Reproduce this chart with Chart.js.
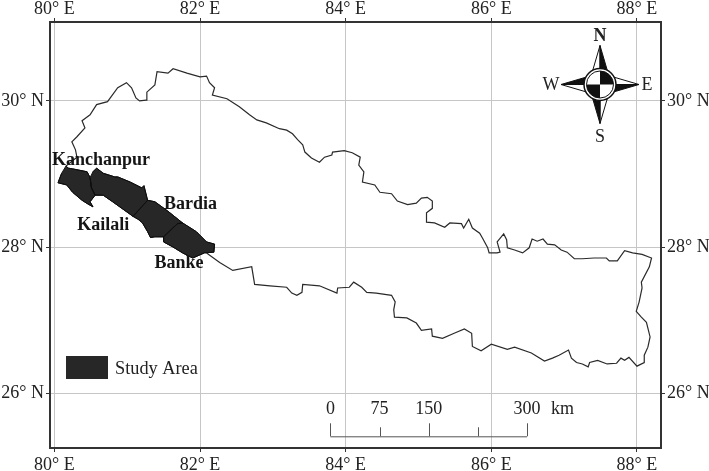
<!DOCTYPE html>
<html>
<head>
<meta charset="utf-8">
<style>
  html, body { margin: 0; padding: 0; background: #fff; }
  canvas { display: block; }
</style>
<script src="https://cdn.jsdelivr.net/npm/chart.js@4/dist/chart.umd.min.js"></script>
</head>
<body>
<canvas id="mapChart" width="709" height="471"></canvas>
<script>
// Tick positions, degrees
const lonTicks = [80, 82, 84, 86, 88];
const latTicks = [26, 28, 30];

const outlineLon = [80.16, 80.31, 80.29, 80.24, 80.31, 80.42, 80.38, 80.49, 80.58, 80.73, 80.87, 80.99, 81.06, 81.12, 81.17, 81.26, 81.27, 81.38, 81.41, 81.56, 81.63, 81.82, 82.00, 82.09, 82.13, 82.20, 82.17, 82.37, 82.54, 82.68, 82.78, 82.91, 83.09,
  83.19, 83.27, 83.34, 83.41, 83.44, 83.53, 83.64, 83.71, 83.81, 83.82, 83.98, 84.09, 84.20, 84.18, 84.25, 84.23, 84.40, 84.47, 84.63, 84.71, 84.85, 84.97, 85.04, 85.12, 85.19, 85.19, 85.11, 85.11, 85.22, 85.36, 85.43, 85.59, 85.62, 85.69, 85.74, 85.84,
  85.88, 85.95, 85.97, 86.08, 86.12, 86.08, 86.17, 86.21, 86.22, 86.32, 86.43, 86.52, 86.56, 86.63, 86.71, 86.77, 86.87, 86.96, 87.04, 87.14, 87.25, 87.41, 87.58, 87.62, 87.73, 87.83, 87.94, 88.07, 88.20,
  88.17, 88.06, 88.07, 88.03, 87.99, 88.06, 88.13, 88.18, 88.15, 88.10, 88.10, 88.00, 87.89, 87.83, 87.78, 87.72, 87.59, 87.46, 87.35, 87.33, 87.25, 87.17, 87.10, 87.06, 86.93, 86.84, 86.73, 86.55, 86.32, 86.22, 86.00, 85.86, 85.74, 85.73,
  85.63, 85.49, 85.33, 85.19, 85.18, 85.04, 84.97, 84.84, 84.67, 84.66, 84.68, 84.63, 84.42, 84.29, 84.22, 84.11, 84.05, 83.89, 83.88, 83.64, 83.41, 83.40, 83.33, 83.26, 83.19, 82.96, 82.75, 82.71, 82.45, 82.27, 82.09];
const outlineLat = [29.11, 29.23, 29.33, 29.44, 29.51, 29.63, 29.73, 29.81, 29.95, 29.99, 30.18, 30.25, 30.18, 30.04, 30.00, 30.01, 30.12, 30.22, 30.40, 30.38, 30.44, 30.38, 30.33, 30.34, 30.25, 30.18, 30.08, 30.03, 29.92, 29.81, 29.74, 29.70, 29.62,
  29.60, 29.55, 29.47, 29.40, 29.30, 29.22, 29.16, 29.23, 29.26, 29.30, 29.32, 29.29, 29.23, 29.12, 29.03, 28.89, 28.85, 28.75, 28.73, 28.63, 28.58, 28.60, 28.67, 28.68, 28.63, 28.53, 28.47, 28.34, 28.33, 28.27, 28.33, 28.32, 28.26, 28.38, 28.26, 28.19,
  28.12, 27.99, 27.92, 27.92, 27.93, 28.07, 28.18, 28.10, 27.99, 27.96, 27.92, 27.99, 28.11, 28.08, 28.11, 28.04, 28.03, 27.96, 27.93, 27.84, 27.84, 27.85, 27.85, 27.81, 27.81, 27.95, 27.92, 27.90, 27.85,
  27.73, 27.52, 27.44, 27.25, 27.12, 27.04, 26.97, 26.77, 26.63, 26.52, 26.42, 26.37, 26.49, 26.45, 26.48, 26.41, 26.40, 26.45, 26.42, 26.36, 26.40, 26.42, 26.48, 26.59, 26.52, 26.48, 26.44, 26.55, 26.63, 26.60, 26.67, 26.58, 26.64, 26.82,
  26.88, 26.82, 26.75, 26.78, 26.88, 26.86, 26.96, 27.03, 27.04, 27.14, 27.25, 27.34, 27.37, 27.38, 27.45, 27.52, 27.45, 27.44, 27.37, 27.47, 27.49, 27.38, 27.34, 27.37, 27.45, 27.47, 27.49, 27.73, 27.68, 27.79, 27.92];

// Study districts
const kanchanpurLon = [80.16, 80.19, 80.25, 80.45, 80.49, 80.51, 80.56, 80.49, 80.53, 80.46, 80.38, 80.25, 80.17, 80.05, 80.10];
const kanchanpurLat = [29.11, 29.08, 29.07, 29.03, 28.95, 28.81, 28.71, 28.62, 28.55, 28.59, 28.64, 28.75, 28.85, 28.88, 29.01];
const kailaliLon = [80.53, 80.58, 80.67, 80.83, 80.87, 81.04, 81.20, 81.23, 81.28, 81.08, 81.01, 80.80, 80.67, 80.56, 80.51, 80.49];
const kailaliLat = [29.03, 29.08, 29.01, 28.96, 28.96, 28.89, 28.81, 28.84, 28.64, 28.42, 28.47, 28.62, 28.71, 28.71, 28.81, 28.95];
const bardiaLon = [81.28, 81.38, 81.56, 81.76, 81.69, 81.50, 81.38, 81.32, 81.28, 81.21, 81.15, 81.08];
const bardiaLat = [28.64, 28.62, 28.49, 28.33, 28.32, 28.14, 28.14, 28.13, 28.21, 28.33, 28.38, 28.42];
const bankeLon = [81.69, 81.76, 81.95, 82.09, 82.20, 82.19, 82.06, 81.90, 81.76, 81.63, 81.50, 81.50];
const bankeLat = [28.32, 28.33, 28.21, 28.07, 28.04, 27.93, 27.92, 27.85, 27.92, 28.00, 28.07, 28.14];

// Map labels
const districtNames = ['Kanchanpur', 'Kailali', 'Bardia', 'Banke'];
const districtLabelLon = [80.64, 80.67, 81.87, 81.71];
const districtLabelLat = [29.19, 28.30, 28.59, 27.78];

// Scale bar
const scaleKm = [0, 75, 150, 225, 300];
const scaleLabels = ['0', '75', '150', '', '300'];

const serif = '"Liberation Serif", "Times New Roman", serif';

function toPoints(lon, lat) {
    return lon.map(function(v, i) { return { x: v, y: lat[i] }; });
}

function district(lon, lat) {
    return {
        data: toPoints(lon, lat),
        showLine: true,
        isDistrict: true,
        borderColor: '#0c0c0c',
        borderWidth: 1,
        pointRadius: 0,
        tension: 0
    };
}

function setTicks(values) {
    return function(scale) {
        scale.ticks = values.map(function(v) { return { value: v }; });
    };
}

// Fill the closed district shapes, then put text, scale bar and compass on top
const mapExtras = {
    id: 'mapExtras',
    beforeDatasetsDraw(chart) {
        const ctx = chart.ctx;
        chart.data.datasets.forEach(function(ds, i) {
            if (!ds.isDistrict) return;
            const pts = chart.getDatasetMeta(i).data;
            ctx.beginPath();
            pts.forEach(function(p, j) {
                if (j === 0) ctx.moveTo(p.x, p.y); else ctx.lineTo(p.x, p.y);
            });
            ctx.closePath();
            ctx.fillStyle = '#272727';
            ctx.fill();
            ctx.strokeStyle = '#141414';
            ctx.lineWidth = 1;
            ctx.stroke();
        });
    },
    afterDatasetsDraw(chart) {
        const ctx = chart.ctx;
        const x = chart.scales.x, y = chart.scales.y;
        ctx.save();

        // District names
        ctx.fillStyle = '#151515';
        ctx.font = 'bold 18px ' + serif;
        ctx.textAlign = 'center';
        ctx.textBaseline = 'middle';
        districtNames.forEach(function(name, i) {
            ctx.fillText(name, x.getPixelForValue(districtLabelLon[i]), y.getPixelForValue(districtLabelLat[i]));
        });

        // Legend
        ctx.fillStyle = '#272727';
        ctx.fillRect(66, 356, 42, 23);
        ctx.fillStyle = '#222';
        ctx.font = '18.3px ' + serif;
        ctx.textAlign = 'left';
        ctx.textBaseline = 'alphabetic';
        ctx.fillText('Study Area', 115, 374);

        // Scale bar, 300 km is about 2.7 degrees here
        const barX = function(km) { return x.getPixelForValue(83.79 + km * 0.009); };
        const barBase = y.getPixelForValue(25.41);
        ctx.strokeStyle = '#555';
        ctx.lineWidth = 1;
        ctx.beginPath();
        ctx.moveTo(barX(0), barBase + 0.5);
        ctx.lineTo(barX(300), barBase + 0.5);
        scaleKm.forEach(function(km, i) {
            const tall = i % 2 === 0;
            ctx.moveTo(Math.round(barX(km)) + 0.5, barBase);
            ctx.lineTo(Math.round(barX(km)) + 0.5, barBase - (tall ? 13 : 9));
        });
        ctx.stroke();
        ctx.fillStyle = '#222';
        ctx.font = '18px ' + serif;
        ctx.textAlign = 'center';
        scaleKm.forEach(function(km, i) {
            ctx.fillText(scaleLabels[i], barX(km), 414);
        });
        ctx.textAlign = 'left';
        ctx.fillText('km', 551, 414);

        drawCompass(ctx, 600, 84.5);
        ctx.restore();
    }
};

function tri(ctx, pts, fill) {
    ctx.beginPath();
    ctx.moveTo(pts[0][0], pts[0][1]);
    ctx.lineTo(pts[1][0], pts[1][1]);
    ctx.lineTo(pts[2][0], pts[2][1]);
    ctx.closePath();
    ctx.fillStyle = fill;
    ctx.fill();
    ctx.strokeStyle = '#111';
    ctx.lineWidth = 1;
    ctx.stroke();
}

function drawCompass(ctx, cx, cy) {
    const tip = 39, base = 8.5;
    // each arm has one white half and one black half
    tri(ctx, [[cx, cy - tip], [cx - base, cy - 10], [cx, cy - 10]], '#fff');
    tri(ctx, [[cx, cy - tip], [cx + base, cy - 10], [cx, cy - 10]], '#111');
    tri(ctx, [[cx + tip, cy], [cx + 10, cy - base], [cx + 10, cy]], '#fff');
    tri(ctx, [[cx + tip, cy], [cx + 10, cy + base], [cx + 10, cy]], '#111');
    tri(ctx, [[cx, cy + tip], [cx + base, cy + 10], [cx, cy + 10]], '#fff');
    tri(ctx, [[cx, cy + tip], [cx - base, cy + 10], [cx, cy + 10]], '#111');
    tri(ctx, [[cx - tip, cy], [cx - 10, cy + base], [cx - 10, cy]], '#fff');
    tri(ctx, [[cx - tip, cy], [cx - 10, cy - base], [cx - 10, cy]], '#111');

    ctx.beginPath();
    ctx.arc(cx, cy, 16, 0, Math.PI * 2);
    ctx.fillStyle = '#fff';
    ctx.fill();
    ctx.strokeStyle = '#111';
    ctx.lineWidth = 1.5;
    ctx.stroke();
    ctx.beginPath();
    ctx.arc(cx, cy, 13.5, 0, Math.PI * 2);
    ctx.lineWidth = 1;
    ctx.stroke();
    ctx.fillStyle = '#111';
    ctx.beginPath();
    ctx.moveTo(cx, cy);
    ctx.arc(cx, cy, 13.5, -Math.PI / 2, 0);
    ctx.closePath();
    ctx.fill();
    ctx.beginPath();
    ctx.moveTo(cx, cy);
    ctx.arc(cx, cy, 13.5, Math.PI / 2, Math.PI);
    ctx.closePath();
    ctx.fill();

    ctx.fillStyle = '#222';
    ctx.textAlign = 'center';
    ctx.textBaseline = 'middle';
    ctx.font = 'bold 18px ' + serif;
    ctx.fillText('N', cx, cy - 48);
    ctx.font = '18px ' + serif;
    ctx.fillText('S', cx, cy + 53);
    ctx.fillText('W', cx - 49, cy + 1);
    ctx.fillText('E', cx + 47, cy + 1);
}

document.addEventListener('DOMContentLoaded', function() {
    const tickFont = { family: serif, size: 18 };
    const lonLabel = function(v) { return v + '° E'; };
    const latLabel = function(v) { return v + '° N'; };
    const lonAxis = function(position, size) {
        return {
            type: 'linear', position: position, min: 79.94, max: 88.33,
            afterBuildTicks: setTicks(lonTicks),
            afterFit: function(scale) { scale.height = size; },
            border: { color: '#333', width: 2 },
            grid: { color: '#c6c6c6', tickColor: '#333', tickLength: 4, drawOnChartArea: position === 'bottom' },
            ticks: { font: tickFont, color: '#222', padding: position === 'top' ? -2 : 2, maxRotation: 0, autoSkip: false, callback: lonLabel }
        };
    };
    const latAxis = function(position, size) {
        return {
            type: 'linear', position: position, min: 25.25, max: 31.08,
            afterBuildTicks: setTicks(latTicks),
            afterFit: function(scale) { scale.width = size; },
            border: { color: '#333', width: 2 },
            grid: { color: '#c6c6c6', tickColor: '#333', tickLength: 4, drawOnChartArea: position === 'left' },
            ticks: { font: tickFont, color: '#222', padding: 2, autoSkip: false, callback: latLabel }
        };
    };

    new Chart(document.getElementById('mapChart').getContext('2d'), {
        type: 'scatter',
        data: {
            datasets: [
                {
                    data: toPoints(outlineLon, outlineLat),
                    showLine: true,
                    borderColor: '#2a2a2a',
                    borderWidth: 1.2,
                    pointRadius: 0,
                    tension: 0
                },
                district(kanchanpurLon, kanchanpurLat),
                district(kailaliLon, kailaliLat),
                district(bardiaLon, bardiaLat),
                district(bankeLon, bankeLat)
            ]
        },
        options: {
            responsive: false,
            animation: false,
            layout: { padding: 0 },
            plugins: {
                legend: { display: false },
                tooltip: { enabled: false }
            },
            scales: {
                x: lonAxis('bottom', 23),
                xTop: lonAxis('top', 22),
                y: latAxis('left', 50),
                yRight: latAxis('right', 48)
            }
        },
        plugins: [mapExtras]
    });
});
</script>
</body>
</html>
